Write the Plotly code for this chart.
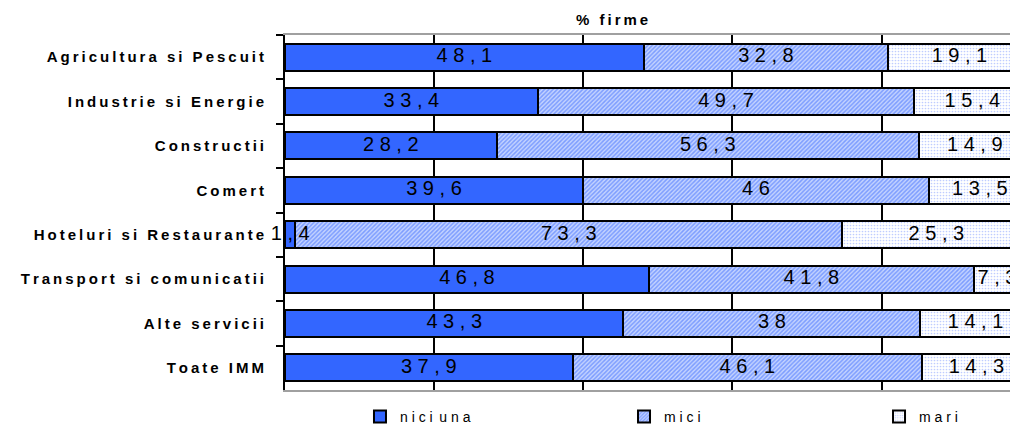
import plotly.graph_objects as go

categories = ["Agricultura si Pescuit", "Industrie si Energie", "Constructii", "Comert",
              "Hoteluri si Restaurante", "Transport si comunicatii", "Alte servicii", "Toate IMM"]
nici_una = [48.1, 33.4, 28.2, 39.6, 1.4, 46.8, 43.3, 37.9]
mici = [32.8, 49.7, 56.3, 46.0, 73.3, 41.8, 38.0, 46.1]
mari = [19.1, 15.4, 14.9, 13.5, 25.3, 7.3, 14.1, 14.3]
series_names = ["nici una", "mici", "mari"]
title_text = "% firme"

X_MAX = 98.3  # visible part of the 0-100 % axis

TS = "\u2009"


def spaced(s, sep=TS, word=" " + TS + TS):
    words = s.split(" ")
    return word.join(sep.join(list(w)) for w in words)


def num_label(v, sep=" "):
    s = f"{v:g}".replace(".", ",")
    return sep.join(list(s))


ylabels = [spaced(c) for c in categories]
series = [nici_una, mici, mari]

# 100% stacked: centres of each normalised segment (for the value labels)
totals = [sum(t) for t in zip(*series)]
centres = []
for k in range(len(series)):
    row = []
    for i in range(len(categories)):
        before = sum(series[j][i] for j in range(k))
        row.append((before + series[k][i] / 2) / totals[i] * 100)
    centres.append(row)

markers = [
    dict(color="#3366FF", line=dict(color="black", width=2)),
    dict(color="#C4D3FF", line=dict(color="black", width=2),
         pattern=dict(shape="/", fgcolor="#3366FF", bgcolor="#C4D3FF", size=3, solidity=0.5)),
    dict(color="white", line=dict(color="black", width=2),
         pattern=dict(shape=".", fgcolor="#7F99FF", bgcolor="white", size=3, solidity=0.25)),
]
legend_ids = ["legend", "legend2", "legend3"]

fig = go.Figure()
for name, vals, mk, lg in zip(series_names, series, markers, legend_ids):
    fig.add_trace(go.Bar(
        y=ylabels, x=vals, orientation="h", name=spaced(name, sep=" ", word=" " + TS),
        marker=mk, legend=lg, hoverinfo="x+y",
    ))

last = len(series) - 1
for k, (vals, cx) in enumerate(zip(series, centres)):
    xs, pos = [], []
    for v, c in zip(vals, cx):
        # a narrow last segment whose label would run past the visible edge is right-aligned to it
        if k == last and v < 10:
            xs.append(X_MAX - 0.2)
            pos.append("middle left")
        else:
            xs.append(c)
            pos.append("middle center")
    fig.add_trace(go.Scatter(
        y=ylabels, x=xs, mode="text", text=[num_label(v) for v in vals],
        textposition=pos, cliponaxis=False, showlegend=False,
        textfont=dict(family="Liberation Sans, Arial", size=20, color="black"),
        hoverinfo="skip",
    ))

leg_common = dict(orientation="h", xanchor="left", y=-0.076, yanchor="middle",
                  font=dict(size=14, family="Liberation Sans, Arial", color="black"),
                  bgcolor="rgba(0,0,0,0)")

fig.update_layout(
    width=1010, height=417,
    margin=dict(l=277, r=0, t=27, b=35, autoexpand=False),
    barmode="stack", barnorm="percent", bargap=0.39,
    paper_bgcolor="white", plot_bgcolor="white",
    font=dict(family="Liberation Sans, Arial", color="black"),
    showlegend=True,
    legend=dict(x=0.1023, **leg_common),
    legend2=dict(x=0.4625, **leg_common),
    legend3=dict(x=0.8104, **leg_common),
    xaxis=dict(range=[0, X_MAX], dtick=20, showgrid=True, gridcolor="black", gridwidth=1.5,
               showticklabels=False, ticks="", zeroline=False,
               showline=True, mirror=True, linecolor="#A0A0A0", linewidth=1.5, fixedrange=True),
    yaxis=dict(autorange="reversed", showline=True, linecolor="black", linewidth=2,
               ticks="outside", tickson="boundaries", ticklen=7, tickwidth=1.5, tickcolor="black",
               ticklabelstandoff=16, showgrid=False,
               tickfont=dict(family="Liberation Sans, Arial", size=15, color="black", weight="bold")),
    annotations=[dict(text=spaced(title_text), x=0.446, y=1.045, xref="paper", yref="paper",
                      xanchor="center", yanchor="middle", showarrow=False,
                      font=dict(size=15, family="Liberation Sans, Arial", color="black", weight="bold"))],
)

fig.write_html("out.html")
